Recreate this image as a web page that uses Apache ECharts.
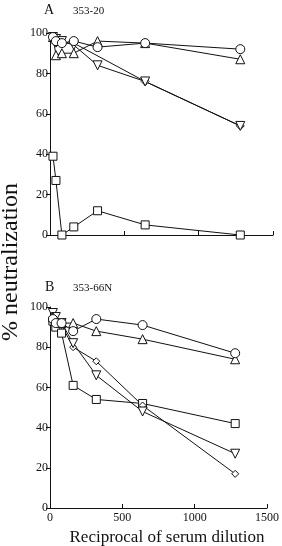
<!DOCTYPE html>
<html>
<head>
<meta charset="utf-8">
<script src="https://cdn.jsdelivr.net/npm/echarts@6/dist/echarts.min.js"></script>
<style>
  html, body { margin: 0; padding: 0; background: #fff; }
  #chart { width: 282px; height: 546px; }
</style>
</head>
<body>
<div id="chart"></div>
<script>
// reciprocal serum dilutions
const dilutions = [20, 40, 80, 160, 320, 640, 1280]
const yTicks = [0, 20, 40, 60, 80, 100]
const xTicks = [0, 500, 1000, 1500]

// panel A: 353-20
const aCircle = [98, 96, 95, 96, 93, 95, 92]
const aTriUp = [98, 89, 90, 90, 96, 95, 87]
const aTriDown = [98, 97, 96, 94, 84, 76, 54]
const aDiamond = [97, 95, 95, 95, null, 76, 54]
const aSquare = [39, 27, 0, 4, 12, 5, 0]

// panel B: 353-66N
const bCircle = [94, 92, 92, 88, 94, 91, 77]
const bTriUp = [95, 93, 92, 92, 88, 84, 74]
const bTriDown = [97, 95, 92, 82, 66, 48, 27]
const bDiamond = [93, 92, 91, 80, 73, 51, 17]
const bSquare = [93, 90, 87, 61, 54, 52, 42]

const font = 'Liberation Serif, DejaVu Serif, serif'
const ink = '#111'

const pairs = vals => dilutions.map((d, i) => [d, vals[i]])

const mk = (vals, idx, symbol, size, rotate) => ({
  type: 'line',
  xAxisIndex: idx,
  yAxisIndex: idx,
  data: pairs(vals),
  connectNulls: true,
  symbol,
  symbolSize: size,
  symbolRotate: rotate || 0,
  showAllSymbol: true,
  lineStyle: { color: ink, width: 1 },
  itemStyle: { color: '#fff', borderColor: ink, borderWidth: 1 },
  emphasis: { disabled: true },
  animation: false,
  z: 3,
})

const xAx = (idx, showLabels) => ({
  type: 'value',
  gridIndex: idx,
  min: xTicks[0], max: xTicks[xTicks.length - 1], interval: 500,
  axisLine: { show: true, lineStyle: { color: ink, width: 1 } },
  axisTick: { show: true, inside: true, length: 4, lineStyle: { color: ink } },
  axisLabel: { show: showLabels, color: ink, fontFamily: font, fontSize: 12, margin: 4, formatter: v => String(v) },
  splitLine: { show: false },
})

const yAx = idx => ({
  type: 'value',
  gridIndex: idx,
  min: yTicks[0], max: yTicks[yTicks.length - 1], interval: 20,
  axisLine: { show: true, lineStyle: { color: ink, width: 1 } },
  axisTick: { show: true, length: 4, lineStyle: { color: ink } },
  axisLabel: { color: ink, fontFamily: font, fontSize: 12, margin: 2 },
  splitLine: { show: false },
})

const chart = echarts.init(document.getElementById('chart'))
chart.setOption({
  backgroundColor: '#fff',
  animation: false,
  grid: [
    { left: 50, right: 9, top: 33, height: 202 },
    { left: 50, right: 9, top: 307, height: 201 },
  ],
  xAxis: [xAx(0, false), xAx(1, true)],
  yAxis: [yAx(0), yAx(1)],
  graphic: [
    { type: 'text', left: 44, top: 3, style: { text: 'A', font: '14px ' + font, fill: ink } },
    { type: 'text', left: 73, top: 6, style: { text: '353-20', font: '11px ' + font, fill: ink } },
    { type: 'text', left: 45, top: 280, style: { text: 'B', font: '14px ' + font, fill: ink } },
    { type: 'text', left: 73, top: 283, style: { text: '353-66N', font: '11px ' + font, fill: ink } },
    {
      type: 'text', x: 11, y: 262, rotation: Math.PI / 2,
      style: { text: '% neutralization', font: '24px ' + font, fill: ink, align: 'center', verticalAlign: 'middle' },
    },
    {
      type: 'text', x: 167, y: 538,
      style: { text: 'Reciprocal of serum dilution', font: '17px ' + font, fill: ink, align: 'center', verticalAlign: 'middle' },
    },
  ],
  series: [
    mk(aSquare, 0, 'rect', 8),
    mk(aDiamond, 0, 'diamond', 8),
    mk(aTriDown, 0, 'triangle', 9, 180),
    mk(aTriUp, 0, 'triangle', 9),
    mk(aCircle, 0, 'circle', 9),
    mk(bSquare, 1, 'rect', 8),
    mk(bDiamond, 1, 'diamond', 7),
    mk(bTriDown, 1, 'triangle', 9, 180),
    mk(bTriUp, 1, 'triangle', 9),
    mk(bCircle, 1, 'circle', 9),
  ],
})
</script>
</body>
</html>
